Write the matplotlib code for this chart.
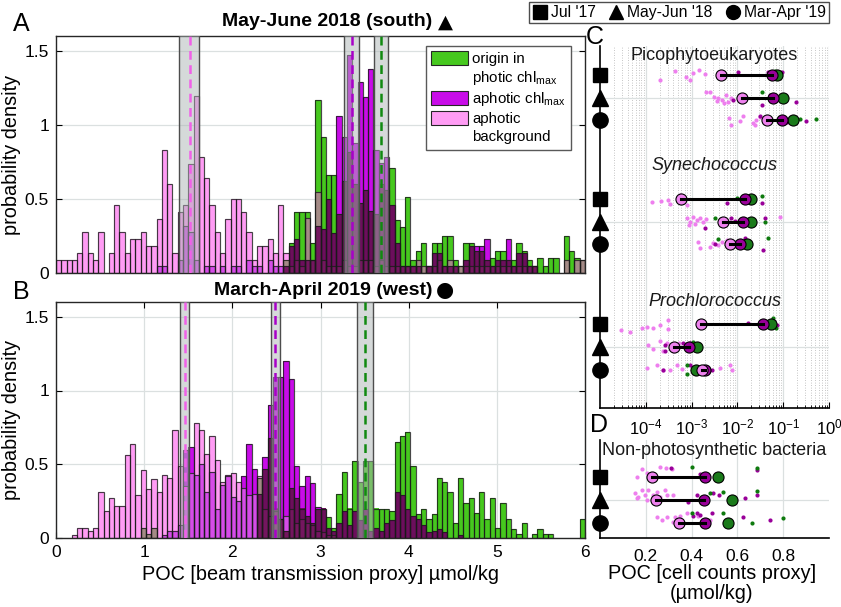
import numpy as np
import matplotlib
matplotlib.use('Agg')
import matplotlib.pyplot as plt
from matplotlib.patches import Patch
from matplotlib.lines import Line2D
from matplotlib.ticker import LogLocator, NullFormatter

plt.rcParams['font.family'] = ['Liberation Sans', 'DejaVu Sans']
plt.rcParams['mathtext.fontset'] = 'custom'
plt.rcParams['mathtext.rm'] = 'Liberation Sans'
plt.rcParams['mathtext.it'] = 'Liberation Sans:italic'

# ---------------- histogram data (bin width 0.06, 0..6) ----------------
BW = 0.06
A_green = [0]*43 + [0.09, 0.2, 0.41, 0.41, 0.41, 0.2, 1.17, 0.92, 0.66, 0.66,
                    0.4, 0.62, 0.82, 0.6, 0.47, 0.56, 0.42, 0.4, 0.6, 0.56,
                    0.71, 0.36, 0.31, 0.51, 0.09, 0.15, 0.2, 0.045, 0.2, 0.2,
                    0.25, 0.25, 0.09, 0.045, 0.2, 0.2, 0.15, 0.15, 0.09, 0.1,
                    0.15, 0.15, 0.09, 0.09, 0.2, 0.15, 0.09, 0.045, 0.1, 0.045,
                    0.1, 0.1, 0, 0.25, 0.15, 0.1, 0.09]
A_magenta = [0]*19 + [0.045, 0.045, 0, 0, 0.09, 0.32, 0.275, 0.09, 0, 0.045,
                      0.045, 0, 0.045, 0, 0.045, 0.045, 0, 0.09, 0.045, 0.045,
                      0, 0.09, 0.045, 0.045, 0.045, 0.18, 0.23, 0.09, 0.09, 0.09,
                      0.32, 0.3, 0.5, 0.27, 1.06, 0.92, 1.47, 0.88, 1.29, 1.19,
                      1.38, 0.83, 0.74, 0.78, 0.46, 0.2, 0.045, 0.045, 0.045, 0.045,
                      0, 0.045, 0.135, 0.135, 0.045, 0.045, 0.045, 0, 0.09, 0.18,
                      0.18, 0.18, 0.227, 0.045, 0.09, 0.09, 0.227, 0.045, 0.135, 0.135,
                      0.045, 0.045, 0, 0, 0, 0, 0, 0, 0, 0, 0]
A_pink = [0.09, 0.09, 0.09, 0.09, 0.135, 0.275, 0.135, 0.09, 0.275, 0,
          0.135, 0.457, 0.275, 0.135, 0.227, 0.227, 0.275, 0.18, 0.18, 0.367,
          0.83, 0.6, 0.135, 0.41, 0.457, 0.735, 1.196, 0.78, 0.644, 0.457,
          0.275, 0.135, 0.367, 0.5, 0.5, 0.41, 0.275, 0.09, 0.18, 0.18,
          0.227, 0.135, 0.457, 0.135, 0.045, 0.09, 0.045, 0.37, 0.09, 0.55,
          0.09, 0.045, 0.045, 0.045, 0.09, 0.045, 0.045, 0.09, 0.09, 0.09,
          0.045, 0.09, 0.045, 0.045, 0.045, 0.045, 0.045, 0.045, 0.09, 0.045,
          0.045, 0.045, 0.09, 0.045, 0.09, 0.045, 0.045, 0.045, 0.045, 0.045,
          0.045, 0.045, 0.045, 0.045, 0.045, 0.045, 0.045, 0.045, 0.045, 0.045,
          0.045, 0, 0, 0, 0, 0, 0.09, 0, 0.09, 0.09]

B_green = [0]*16 + [0.065, 0.03, 0.065] + [0]*19 + [
    0.41, 0.47, 0.68, 0.2, 0.13, 0.05, 0.34, 0.27, 0.2, 0.15,
    0.1, 0.2, 0.2, 0.14, 0.07, 0.3, 0.45, 0.2, 0.52, 0.38,
    0.52, 0.52, 0.2, 0.2, 0.2, 0.18, 0.65, 0.69, 0.72, 0.49,
    0.16, 0.2, 0.13, 0.16, 0.41, 0.38, 0.31, 0.1, 0.41, 0.24,
    0.27, 0.17, 0.31, 0.13, 0.27, 0.07, 0.24, 0.13, 0.06, 0.03,
    0.1, 0, 0.03, 0.06, 0.03, 0.03, 0, 0, 0, 0, 0, 0.13]
B_magenta = [0]*20 + [
    0.02, 0.045, 0.045, 0.09, 0.6, 0.62, 0.43, 0.5, 0.31, 0.45,
    0.2, 0.36, 0.42, 0.28, 0.25, 0.42, 0.64, 0.47, 0.3, 0.55,
    0.9, 1.09, 1.09, 1.2, 1.08, 0.49, 0.35, 0.42, 0.37, 0.21,
    0.2, 0.07, 0.05, 0.1, 0.18, 0.09, 0.18, 0.12, 0.2, 0.05,
    0.07, 0.05, 0.1, 0.12, 0.31, 0.29, 0.2, 0.15, 0.13, 0.085,
    0.04, 0.045, 0.06, 0.04, 0, 0, 0.02] + [0]*23
B_pink = [0, 0, 0, 0.02, 0.065, 0.065, 0.045, 0.065, 0.31, 0.18,
          0.27, 0.22, 0.22, 0.56, 0.64, 0.29, 0.46, 0.33, 0.4, 0.31,
          0.43, 0.41, 0.73, 0.49, 0.35, 0.44, 0.78, 0.73, 0.57, 0.69,
          0.53, 0.38, 0.43, 0.44, 0.38, 0.34, 0.29, 0.3, 0.42, 0.2,
          0.15, 0.18, 0.13, 0.15, 0.2, 0.1, 0.13, 0.1, 0.09, 0.05,
          0.04, 0.02, 0.02] + [0]*47

# mean +/- band [lo, mean, hi] : pink, magenta, green
A_bands = [[1.40, 1.52, 1.62], [3.27, 3.36, 3.44], [3.61, 3.69, 3.77]]
B_bands = [[1.41, 1.46, 1.51], [2.44, 2.48, 2.54], [3.41, 3.505, 3.60]]

# ---------------- cell-count data ----------------
cruises = ["Jul '17", "May-Jun '18", "Mar-Apr '19"]
groups_C = ['Picophytoeukaryotes', 'Synechococcus', 'Prochlorococcus']

pico_mean_pink = [4.3e-3, 1.23e-2, 4.4e-2]
pico_mean_mag = [5.6e-2, 6.0e-2, 9.3e-2]
pico_mean_grn = [7.2e-2, 0.10, 0.16]
syn_mean_pink = [6.0e-4, 4.8e-3, 6.9e-3]
syn_mean_mag = [1.48e-2, 1.35e-2, 1.15e-2]
syn_mean_grn = [2.0e-2, 2.0e-2, 1.6e-2]
pro_mean_pink = [1.6e-3, 4.1e-4, 1.66e-3]
pro_mean_mag = [3.7e-2, 8.9e-4, 2.0e-3]
pro_mean_grn = [5.4e-2, 1.3e-3, 1.26e-3]
bact_mean_pink = [0.226, 0.245, 0.346]
bact_mean_mag = [0.46, 0.456, 0.459]
bact_mean_grn = [0.514, 0.575, 0.558]

pico_pink_x = [[2.0e-4, 4.4e-4, 7.6e-4, 9.3e-4, 1.1e-3, 1.45e-3, 2.0e-3],
               [2.1e-3, 2.5e-3, 3.1e-3, 3.8e-3, 4.5e-3, 5.6e-3, 6.3e-3, 3.5e-3, 5.1e-3, 7.4e-3],
               [6.6e-3, 7.4e-3, 1.14e-2, 1.3e-2, 2.2e-2, 2.6e-2, 2.4e-2, 3.1e-2]]
pico_pink_dy = [[0.22, -0.19, 0.07, 0.22, -0.1, -0.22, -0.06],
                [-0.24, -0.26, -0.04, 0.03, 0.1, -0.12, 0.18, 0.15, 0.25, 0.03],
                [-0.1, 0.19, 0.04, -0.19, 0.1, 0, 0.22, -0.15]]
pico_mag_x = [[1.05e-2, 4.7e-2, 9.3e-2], [8.1e-3, 3.4e-2, 0.195, 5.1e-2], [3.1e-2, 0.31, 0.12]]
pico_mag_dy = [[-0.15, -0.12, -0.15], [0.1, 0.3, 0.18, -0.12], [-0.18, 0.04, 0.07]]
pico_grn_x = [[6.6e-2, 8.5e-2], [3.4e-2], [0.51, 0.23]]
pico_grn_dy = [[-0.18, -0.07], [-0.26], [-0.07, -0.07]]

syn_pink_x = [[1.34e-4, 2.2e-4, 3.1e-4, 3.4e-4, 7.8e-4, 5.6e-4],
              [8.1e-4, 9.3e-4, 1.1e-3, 1.3e-3, 1.5e-3, 1.8e-3, 8.9e-4, 1.2e-3, 2.1e-3, 8.5e-2],
              [1.4e-3, 1.5e-3, 2.5e-3, 2.95e-3, 3.8e-3, 4.5e-3, 5.9e-3]]
syn_pink_dy = [[0.15, 0.09, 0.04, 0.24, 0.26, -0.18],
               [-0.15, 0, -0.22, -0.07, -0.15, 0, 0.15, 0.12, -0.12, -0.2],
               [-0.12, 0.18, 0.1, -0.04, 0.03, -0.12, -0.19]]
syn_mag_x = [[5.9e-3, 3.4e-2], [1.95e-3, 7.4e-3, 4.0e-2, 8.9e-3], [3.2e-3, 3.7e-2, 1.48e-2]]
syn_mag_dy = [[0.19, 0.19], [0.26, -0.15, -0.18, -0.03], [0, 0.25, -0.26]]
syn_grn_x = [[3.4e-2, 9.6e-3], [3.2e-3, 4.0e-2], [3.8e-3, 4.7e-2]]
syn_grn_dy = [[-0.15, -0.06], [-0.15, 0], [-0.22, -0.26]]

pro_pink_x = [[2.9e-5, 4.5e-5, 8.1e-5, 1.05e-4, 1.46e-4, 2.0e-4, 3.1e-4, 3.1e-4],
              [1.14e-4, 1.46e-4, 2.0e-4, 2.85e-4, 3.9e-4, 5.4e-4, 2.4e-4],
              [1.05e-4, 1.74e-4, 2.4e-4, 3.4e-4, 4.7e-4, 4.2e-3, 6.9e-3, 7.5e-3, 6.1e-4]]
pro_pink_dy = [[0.25, 0.32, 0.18, 0.1, 0.18, 0.03, -0.19, 0.22],
               [-0.07, 0.1, -0.26, -0.19, 0.18, -0.16, 0.18],
               [-0.09, -0.19, 0, 0.03, -0.19, -0.09, -0.19, 0.03, -0.04]]
pro_mag_x = [[1.7e-2, 5.6e-2, 7.2e-2], [2.6e-4, 6.6e-4, 9.2e-4, 2.6e-4], [2.4e-4, 9.2e-4, 2.75e-3]]
pro_mag_dy = [[-0.04, -0.19, 0.03], [-0.07, -0.19, -0.16, 0.18], [0.03, -0.19, 0.03]]
pro_grn_x = [[6.0e-2, 6.9e-2], [1.1e-3], [7.8e-4, 7.8e-4]]
pro_grn_dy = [[-0.26, 0.18], [-0.22], [0.21, -0.19]]

bact_pink_x = [[0.16, 0.182, 0.207, 0.262, 0.288, 0.233, 0.315],
               [0.153, 0.167, 0.182, 0.196, 0.211, 0.233, 0.247, 0.262, 0.284, 0.16, 0.204, 0.291, 0.32],
               [0.247, 0.269, 0.291, 0.32, 0.327, 0.349, 0.378, 0.429, 0.48]]
bact_pink_dy = [[0, -0.31, -0.14, -0.4, -0.36, 0, -0.31],
                [-0.29, -0.14, -0.43, -0.21, -0.43, -0.21, -0.36, -0.14, -0.43, -0.07, 0, -0.21, -0.21],
                [-0.29, -0.14, -0.29, -0.07, -0.26, -0.31, -0.43, -0.31, -0.14]]
bact_mag_x = [[0.31, 0.437, 0.687], [0.386, 0.422, 0.495, 0.521, 0.633, 0.684],
              [0.407, 0.422, 0.437, 0.488, 0.623, 0.742]]
bact_mag_dy = [[-0.36, -0.11, -0.27], [0.07, -0.21, -0.29, -0.21, -0.07, -0.21],
               [-0.31, -0.46, -0.36, -0.43, -0.26, -0.14]]
bact_grn_x = [[0.4, 0.687], [0.48, 0.539, 0.687], [0.4, 0.539, 0.662, 0.797]]
bact_grn_dy = [[-0.4, -0.36], [-0.31, -0.36, -0.4], [-0.46, -0.46, 0, -0.21]]

# ---------------- styles ----------------
SEG_COL = {'G': '#46C81E', 'M': '#C80CE8', 'P': '#FF9CF4',
           'GM': '#6C0E5C', 'GP': '#A48A86', 'MP': '#D64CE8', 'GMP': '#74165F'}
DASH_COL = ['#F060E8', '#A800C8', '#108A10']
PT_PINK, PT_MAG, PT_GRN = '#EE7FEE', '#990099', '#0E7A0E'
BIG_PINK, BIG_MAG, BIG_GRN = '#EE82EE', '#990099', '#1A7A1A'
GRID = (0.86, 0.88, 0.88)
LABEL_FS = 14.3
TICK_FS = 12.5

W, H = 841, 607
fig = plt.figure(figsize=(W / 100, H / 100), dpi=100)


def rect(l, t, r, b):
    return [l / W, 1 - b / H, (r - l) / W, (b - t) / H]


axA = fig.add_axes(rect(56, 36, 585, 273))
axB = fig.add_axes(rect(56, 302, 585, 538))
axC = fig.add_axes(rect(600, 46, 829, 408))
axD = fig.add_axes(rect(600, 440, 829, 538))


def draw_hist(ax, g, m, p, bands):
    left = np.arange(len(g)) * BW
    segs = {}
    for i in range(len(g)):
        h = {'G': g[i], 'M': m[i], 'P': p[i]}
        lv = sorted(set([0.0] + [v for v in h.values() if v > 0]))
        for a, b in zip(lv[:-1], lv[1:]):
            key = ''.join(k for k in 'GMP' if h[k] >= b)
            segs.setdefault(key, []).append((left[i], a, b - a))
    for key, lst in segs.items():
        xs, bs, hs = zip(*lst)
        ax.bar(xs, hs, bottom=bs, width=BW, align='edge', color=SEG_COL[key],
               linewidth=0, zorder=2)
    for arr in (g, m, p):
        arr = np.asarray(arr, dtype=float)
        mask = arr > 0
        ax.bar(left[mask], arr[mask], width=BW, align='edge', fill=False,
               edgecolor=(0.1, 0.1, 0.1, 0.8), linewidth=0.85, zorder=3)
    for (lo, mu, hi), c in zip(bands, DASH_COL):
        ax.axvspan(lo, hi, facecolor=(0.68, 0.71, 0.71), alpha=0.5,
                   edgecolor='none', zorder=4)
        ax.axvline(lo, color=(0.3, 0.3, 0.3), lw=1.0, zorder=4)
        ax.axvline(hi, color=(0.3, 0.3, 0.3), lw=1.0, zorder=4)
        ax.axvline(mu, color=c, lw=1.8, linestyle=(0, (3.5, 2.2)), zorder=5)
    ax.set_xlim(0, 6)
    ax.set_ylim(0, 1.6)
    ax.set_yticks([0, 0.5, 1, 1.5])
    ax.set_yticklabels(['0', '0.5', '1', '1.5'])
    ax.set_xticks(range(7))
    ax.tick_params(direction='in', top=True, right=True, length=4,
                   labelsize=TICK_FS, pad=5)
    ax.set_axisbelow(True)
    ax.set_ylabel('probability density', fontsize=LABEL_FS, labelpad=3)
    for s in ax.spines.values():
        s.set_linewidth(1.0)
        s.set_color('0.15')


draw_hist(axA, A_green, A_magenta, A_pink, A_bands)
axA.grid(axis='y', color=GRID, lw=0.9)
axA.tick_params(axis='x', labelbottom=False, length=0)

draw_hist(axB, B_green, B_magenta, B_pink, B_bands)
axB.grid(True, color=GRID, lw=0.9)
axB.set_xlabel('POC [beam transmission proxy] µmol/kg', fontsize=LABEL_FS, labelpad=4)

# legend in A (patch aligned with the first line of each entry)
blank = Patch(facecolor='none', edgecolor='none')
hA = [Patch(facecolor=SEG_COL['G'], edgecolor='0.15', lw=0.8), blank,
      Patch(facecolor=SEG_COL['M'], edgecolor='0.15', lw=0.8),
      Patch(facecolor=SEG_COL['P'], edgecolor='0.15', lw=0.8), blank]
lA = ['origin in', 'photic chl$_{\\mathregular{max}}$', 'aphotic chl$_{\\mathregular{max}}$',
      'aphotic', 'background']
legA = axA.legend(hA, lA, loc='upper right',
                  bbox_to_anchor=((571 - 56) / 529, (273 - 46) / 237),
                  fontsize=10.8, frameon=True, fancybox=False, edgecolor='0.35',
                  framealpha=1, handlelength=2.45, handleheight=1.05, labelspacing=0.2,
                  borderpad=0.35, handletextpad=0.3, borderaxespad=0)
legA.set_zorder(10)

# ---------------- panels C and D ----------------
SYM = ['s', '^', 'o']
SYM_SIZE = [10.5, 11.5, 11]


def draw_rows(ax, base, mp, mm, mg, px, pdy, mx, mdy, gx, gdy):
    rows = [base + j for j in range(3)]
    for j, y in enumerate(rows):
        ax.scatter(px[j], y + np.asarray(pdy[j]), s=9, color=PT_PINK, lw=0, zorder=3)
        ax.scatter(mx[j], y + np.asarray(mdy[j]), s=9, color=PT_MAG, lw=0, zorder=3)
        ax.scatter(gx[j], y + np.asarray(gdy[j]), s=9, color=PT_GRN, lw=0, zorder=3)
        ax.plot([mg[j]], [y], 'o', ms=8, mfc=BIG_GRN, mec='k', mew=0.8, zorder=4)
        ax.plot([mm[j]], [y], 'o', ms=8, mfc=BIG_MAG, mec='k', mew=0.8, zorder=5)
        ax.plot([mp[j]], [y], 'o', ms=8, mfc=BIG_PINK, mec='k', mew=0.8, zorder=6)
        ax.plot([mp[j], mm[j]], [y, y], color='k', lw=2.2, zorder=7)
        ax.plot([0], [y], marker=SYM[j], ms=SYM_SIZE[j], color='k', ls='none',
                transform=ax.get_yaxis_transform(), clip_on=False, zorder=10)
    return rows


C_BASE = [0, 5.46, 10.98]
tri_rows = []
for base, args in zip(C_BASE, [
        (pico_mean_pink, pico_mean_mag, pico_mean_grn, pico_pink_x, pico_pink_dy,
         pico_mag_x, pico_mag_dy, pico_grn_x, pico_grn_dy),
        (syn_mean_pink, syn_mean_mag, syn_mean_grn, syn_pink_x, syn_pink_dy,
         syn_mag_x, syn_mag_dy, syn_grn_x, syn_grn_dy),
        (pro_mean_pink, pro_mean_mag, pro_mean_grn, pro_pink_x, pro_pink_dy,
         pro_mag_x, pro_mag_dy, pro_grn_x, pro_grn_dy)]):
    rows = draw_rows(axC, base, *args)
    tri_rows.append(rows[1])

axC.set_xscale('log')
axC.set_xlim(1e-5, 1)
axC.set_ylim(14.67, -1.28)
axC.set_xticks([1e-4, 1e-3, 1e-2, 1e-1, 1])
axC.xaxis.set_minor_locator(LogLocator(base=10, subs=np.arange(2, 10), numticks=20))
axC.xaxis.set_minor_formatter(NullFormatter())
axC.set_yticks(tri_rows)
axC.set_yticklabels([])
axC.tick_params(axis='y', length=0)
axC.tick_params(axis='x', which='major', direction='in', length=4, labelsize=12, pad=7)
axC.tick_params(axis='x', which='minor', direction='in', length=2)
axC.grid(which='major', color=GRID, lw=0.9)
axC.grid(which='minor', axis='x', color=(0.70, 0.70, 0.70), lw=0.6, linestyle=(0, (1, 2)))
axC.set_axisbelow(True)
for s in ('top', 'right'):
    axC.spines[s].set_visible(False)
for s in ('left', 'bottom'):
    axC.spines[s].set_linewidth(1.2)
axC.text(0.5, C_BASE[0] - 0.88, groups_C[0], transform=axC.get_yaxis_transform(),
         ha='center', va='center', fontsize=13, color='0.1', zorder=8)
axC.text(0.5, C_BASE[1] - 1.46, groups_C[1], transform=axC.get_yaxis_transform(),
         ha='center', va='center', fontsize=13, style='italic', color='0.1', zorder=8)
axC.text(0.5, C_BASE[2] - 0.99, groups_C[2], transform=axC.get_yaxis_transform(),
         ha='center', va='center', fontsize=13, style='italic', color='0.1', zorder=8)

rowsD = draw_rows(axD, 0, bact_mean_pink, bact_mean_mag, bact_mean_grn,
                  bact_pink_x, bact_pink_dy, bact_mag_x, bact_mag_dy,
                  bact_grn_x, bact_grn_dy)
axD.set_xlim(0, 1)
axD.set_ylim(2.63, -1.57)
axD.set_xticks([0.2, 0.4, 0.6, 0.8])
axD.set_xticklabels(['0.2', '0.4', '0.6', '0.8'])
axD.set_yticks([rowsD[1]])
axD.set_yticklabels([])
axD.tick_params(axis='y', length=0)
axD.tick_params(axis='x', direction='in', length=0, labelsize=TICK_FS, pad=8)
axD.grid(True, color=GRID, lw=0.9)
axD.set_axisbelow(True)
for s in ('top', 'right'):
    axD.spines[s].set_visible(False)
for s in ('left', 'bottom'):
    axD.spines[s].set_linewidth(1.2)
axD.text(0.5, -1.1, 'Non-photosynthetic bacteria', transform=axD.get_yaxis_transform(),
         ha='center', va='center', fontsize=13, color='0.1', zorder=8)
fig.text(712 / W, 1 - 583.5 / H, 'POC [cell counts proxy]\n(µmol/kg)', ha='center',
         va='center', fontsize=LABEL_FS, linespacing=1.12)

# ---------------- figure-level text ----------------
fig.text(432 / W, 1 - 22 / H, 'May-June 2018 (south)', ha='right', va='center',
         fontsize=14, fontweight='bold')
fig.text(445 / W, 1 - 22 / H, '\u25B2', ha='center', va='center',
         fontsize=14, family='DejaVu Sans')
fig.text(432 / W, 1 - 290 / H, 'March-April 2019 (west)', ha='right', va='center',
         fontsize=14, fontweight='bold')
fig.text(445 / W, 1 - 290 / H, '\u25CF', ha='center', va='center',
         fontsize=15, family='DejaVu Sans')
for lab, x, y in (('A', 21, 24), ('B', 21, 292), ('C', 595, 37), ('D', 599, 425)):
    fig.text(x / W, 1 - y / H, lab, ha='center', va='center', fontsize=18)

hTop = [Line2D([], [], marker=m, color='k', ls='none', ms=s)
        for m, s in zip(SYM, [9.5, 10.5, 10])]
fig.legend(hTop, cruises, loc='upper right', bbox_to_anchor=(829 / W, 1 - 2 / H),
           ncol=3, fontsize=11.3, frameon=True, fancybox=False, edgecolor='0.3',
           framealpha=1, borderpad=0.2, handletextpad=0.2, columnspacing=0.8,
           handlelength=1.0, borderaxespad=0)

fig.savefig('out.png', dpi=100)
